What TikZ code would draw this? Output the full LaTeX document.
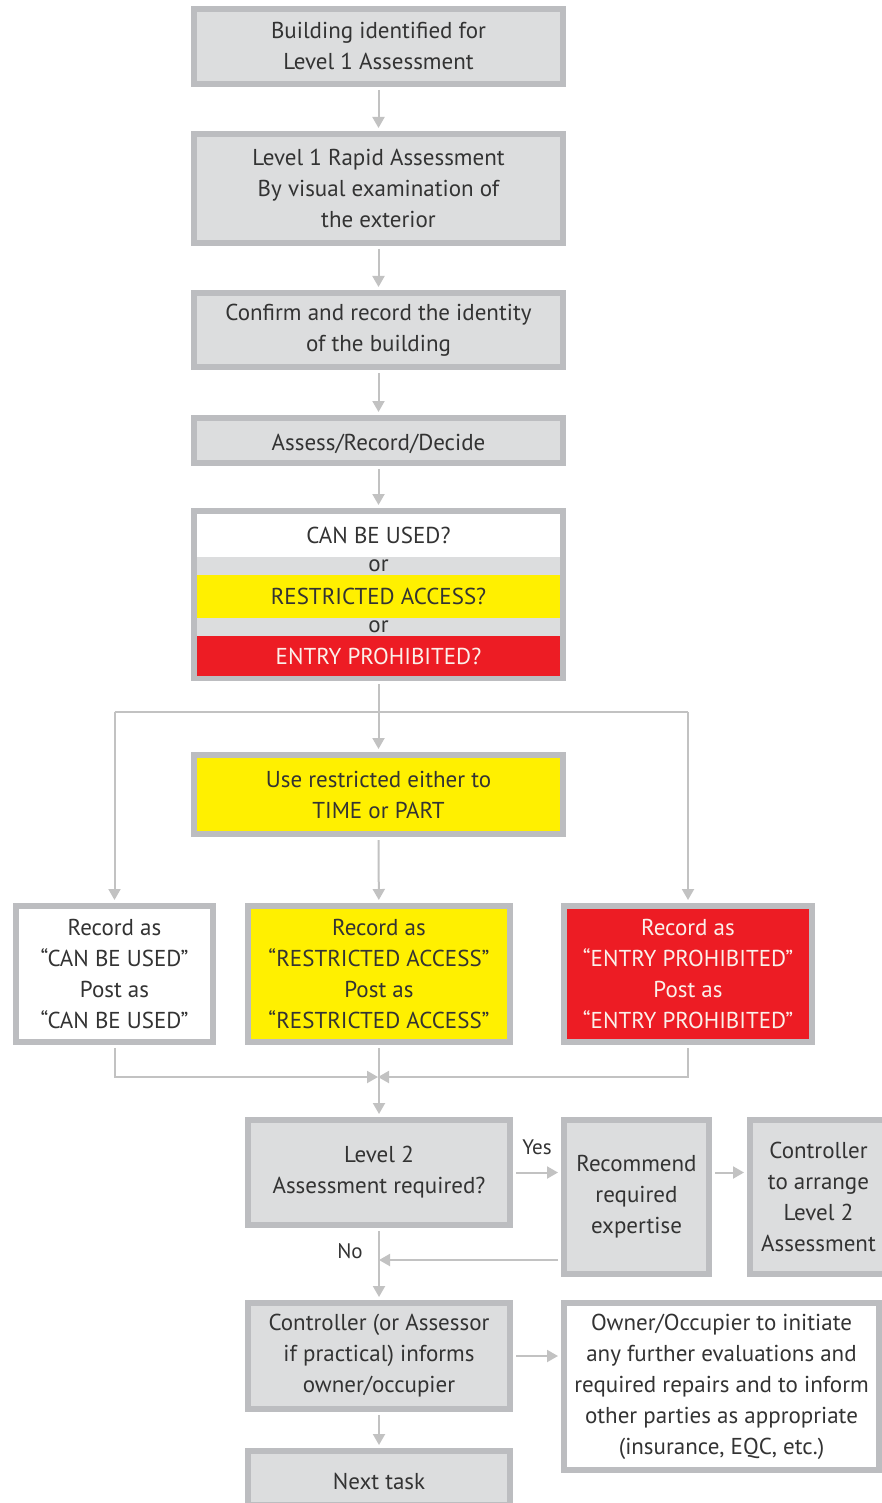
\documentclass[tikz,border=0pt]{standalone}
\usepackage{fontspec}
\setmainfont{PT Sans}
\usetikzlibrary{arrows.meta}

\definecolor{boxgray}{HTML}{DCDDDE}
\definecolor{rimgray}{HTML}{BCBDC0}
\definecolor{lngray}{HTML}{C2C2C2}
\definecolor{signyellow}{HTML}{FFF000}
\definecolor{signred}{HTML}{ED1C24}
\definecolor{inkgray}{HTML}{333333}
\definecolor{paletext}{HTML}{FBF0EA}

\tikzset{
    box/.style={rectangle, draw=rimgray, line width=6pt, fill=boxgray, text=inkgray,
        align=center, inner sep=0pt, font=\fontsize{23}{31}\selectfont,
        execute at begin node=\rule{0pt}{24pt}},
    band/.style={rectangle, minimum width=363, inner sep=0pt, text=inkgray,
        font=\fontsize{23}{31}\selectfont},
    arr/.style={draw=lngray, line width=2pt, -{Triangle[length=11pt,width=12pt]}, shorten >=3pt},
    ln/.style={draw=lngray, line width=2pt},
    tag/.style={text=inkgray, font=\fontsize{21}{26}\selectfont, inner sep=0pt}
}

\begin{document}
\begin{tikzpicture}[x=1pt, y=-1pt]
    \useasboundingbox (0,0) rectangle (882,1503);

    % main column
    \node[box, minimum width=369, minimum height=75] (b1) at (378.5,46.5) {Building identified for\\Level 1 Assessment};
    \node[box, minimum width=369, minimum height=109] (b2) at (378.5,188.5) {Level 1 Rapid Assessment\\By visual examination of\\the exterior};
    \node[box, minimum width=369, minimum height=74] (b3) at (378.5,330) {Confirm and record the identity\\of the building};
    \node[box, minimum width=369, minimum height=45] (b4) at (378.5,440.5) {Assess/Record/Decide};

    % decision box with bands
    \node[box, minimum width=369, minimum height=167] (b5) at (378.5,594.5) {};
    \node[band, fill=white, minimum height=43] (q1) at (378.5,535.5) {CAN BE USED?};
    \node[band] (o1) at (378.5,566) {or};
    \node[band, fill=signyellow, minimum height=43] (q2) at (378.5,596.5) {RESTRICTED ACCESS?};
    \node[band] (o2) at (378.5,627) {or};
    \node[band, fill=signred, text=paletext, minimum height=40] (q3) at (378.5,656) {ENTRY PROHIBITED?};

    \node[box, fill=signyellow, minimum width=369, minimum height=79] (b6) at (378.5,794.5) {Use restricted either to\\TIME or PART};

    % three outcomes
    \node[box, fill=white, minimum width=197, minimum height=136] (b7) at (114.5,974) {Record as\\“CAN BE USED”\\Post as\\“CAN BE USED”};
    \node[box, fill=signyellow, minimum width=262, minimum height=136] (b8) at (379,974) {Record as\\“RESTRICTED ACCESS”\\Post as\\“RESTRICTED ACCESS”};
    \node[box, fill=signred, text=paletext, minimum width=248, minimum height=136] (b9) at (688,974) {Record as\\“ENTRY PROHIBITED”\\Post as\\“ENTRY PROHIBITED”};

    % level 2
    \node[box, minimum width=262, minimum height=105] (b10) at (379,1172.5) {Level 2\\Assessment required?};
    \node[box, minimum width=145, minimum height=154] (b11) at (636.5,1197) {Recommend\\required\\expertise};
    \node[box, minimum width=137, minimum height=154] (b12) at (818.5,1197) {Controller\\to arrange\\Level 2\\Assessment};

    \node[box, minimum width=262, minimum height=106] (b13) at (379,1356) {Controller (or Assessor\\if practical) informs\\owner/occupier};
    \node[box, fill=white, minimum width=315, minimum height=167] (b14) at (721.5,1386.5) {Owner/Occupier to initiate\\any further evaluations and\\required repairs and to inform\\other parties as appropriate\\(insurance, EQC, etc.)};
    \node[box, minimum width=262, minimum height=54] (b15) at (379,1478) {Next task};

    \node[tag] (yes) at (537,1147) {Yes};
    \node[tag] (no) at (350,1251) {No};

    % junctions
    \coordinate (sp) at (378.5,712);
    \coordinate (spl) at (b7.north |- sp);
    \coordinate (spr) at (b9.north |- sp);
    \coordinate (mc) at (379,1077);
    \coordinate (nj) at (379,1260);

    % connectors
    \draw[arr, shorten <=3pt] (b1) -- (b2);
    \draw[arr, shorten <=3pt] (b2) -- (b3);
    \draw[arr, shorten <=3pt] (b3) -- (b4);
    \draw[arr, shorten <=3pt] (b4) -- (b5);
    \draw[arr, shorten <=3pt] (b5) -- (b6);
    \draw[ln] (spl) -- (spr);
    \draw[arr] (spl) -- (b7);
    \draw[arr] (spr) -- (b9);
    \draw[arr, shorten <=3pt] (b6) -- (b8);
    \draw[arr, shorten <=3pt, shorten >=1pt] (b7) |- (mc);
    \draw[arr, shorten <=3pt, shorten >=-1pt] (b9) |- (mc);
    \draw[arr, shorten <=3pt] (b8) -- (b10);
    \draw[arr, shorten <=3pt] (b10.east) -- (b10.east -| b11.west);
    \draw[arr, shorten <=3pt] (b11.east |- b10.east) -- (b12.west |- b10.east);
    \draw[arr, shorten <=3pt, shorten >=0pt] (b11.west |- nj) -- (nj);
    \draw[arr, shorten <=3pt] (b10) -- (b13);
    \draw[arr, shorten <=3pt] (b13.east) -- (b13.east -| b14.west);
    \draw[arr, shorten <=3pt] (b13) -- (b15);
\end{tikzpicture}
\end{document}
